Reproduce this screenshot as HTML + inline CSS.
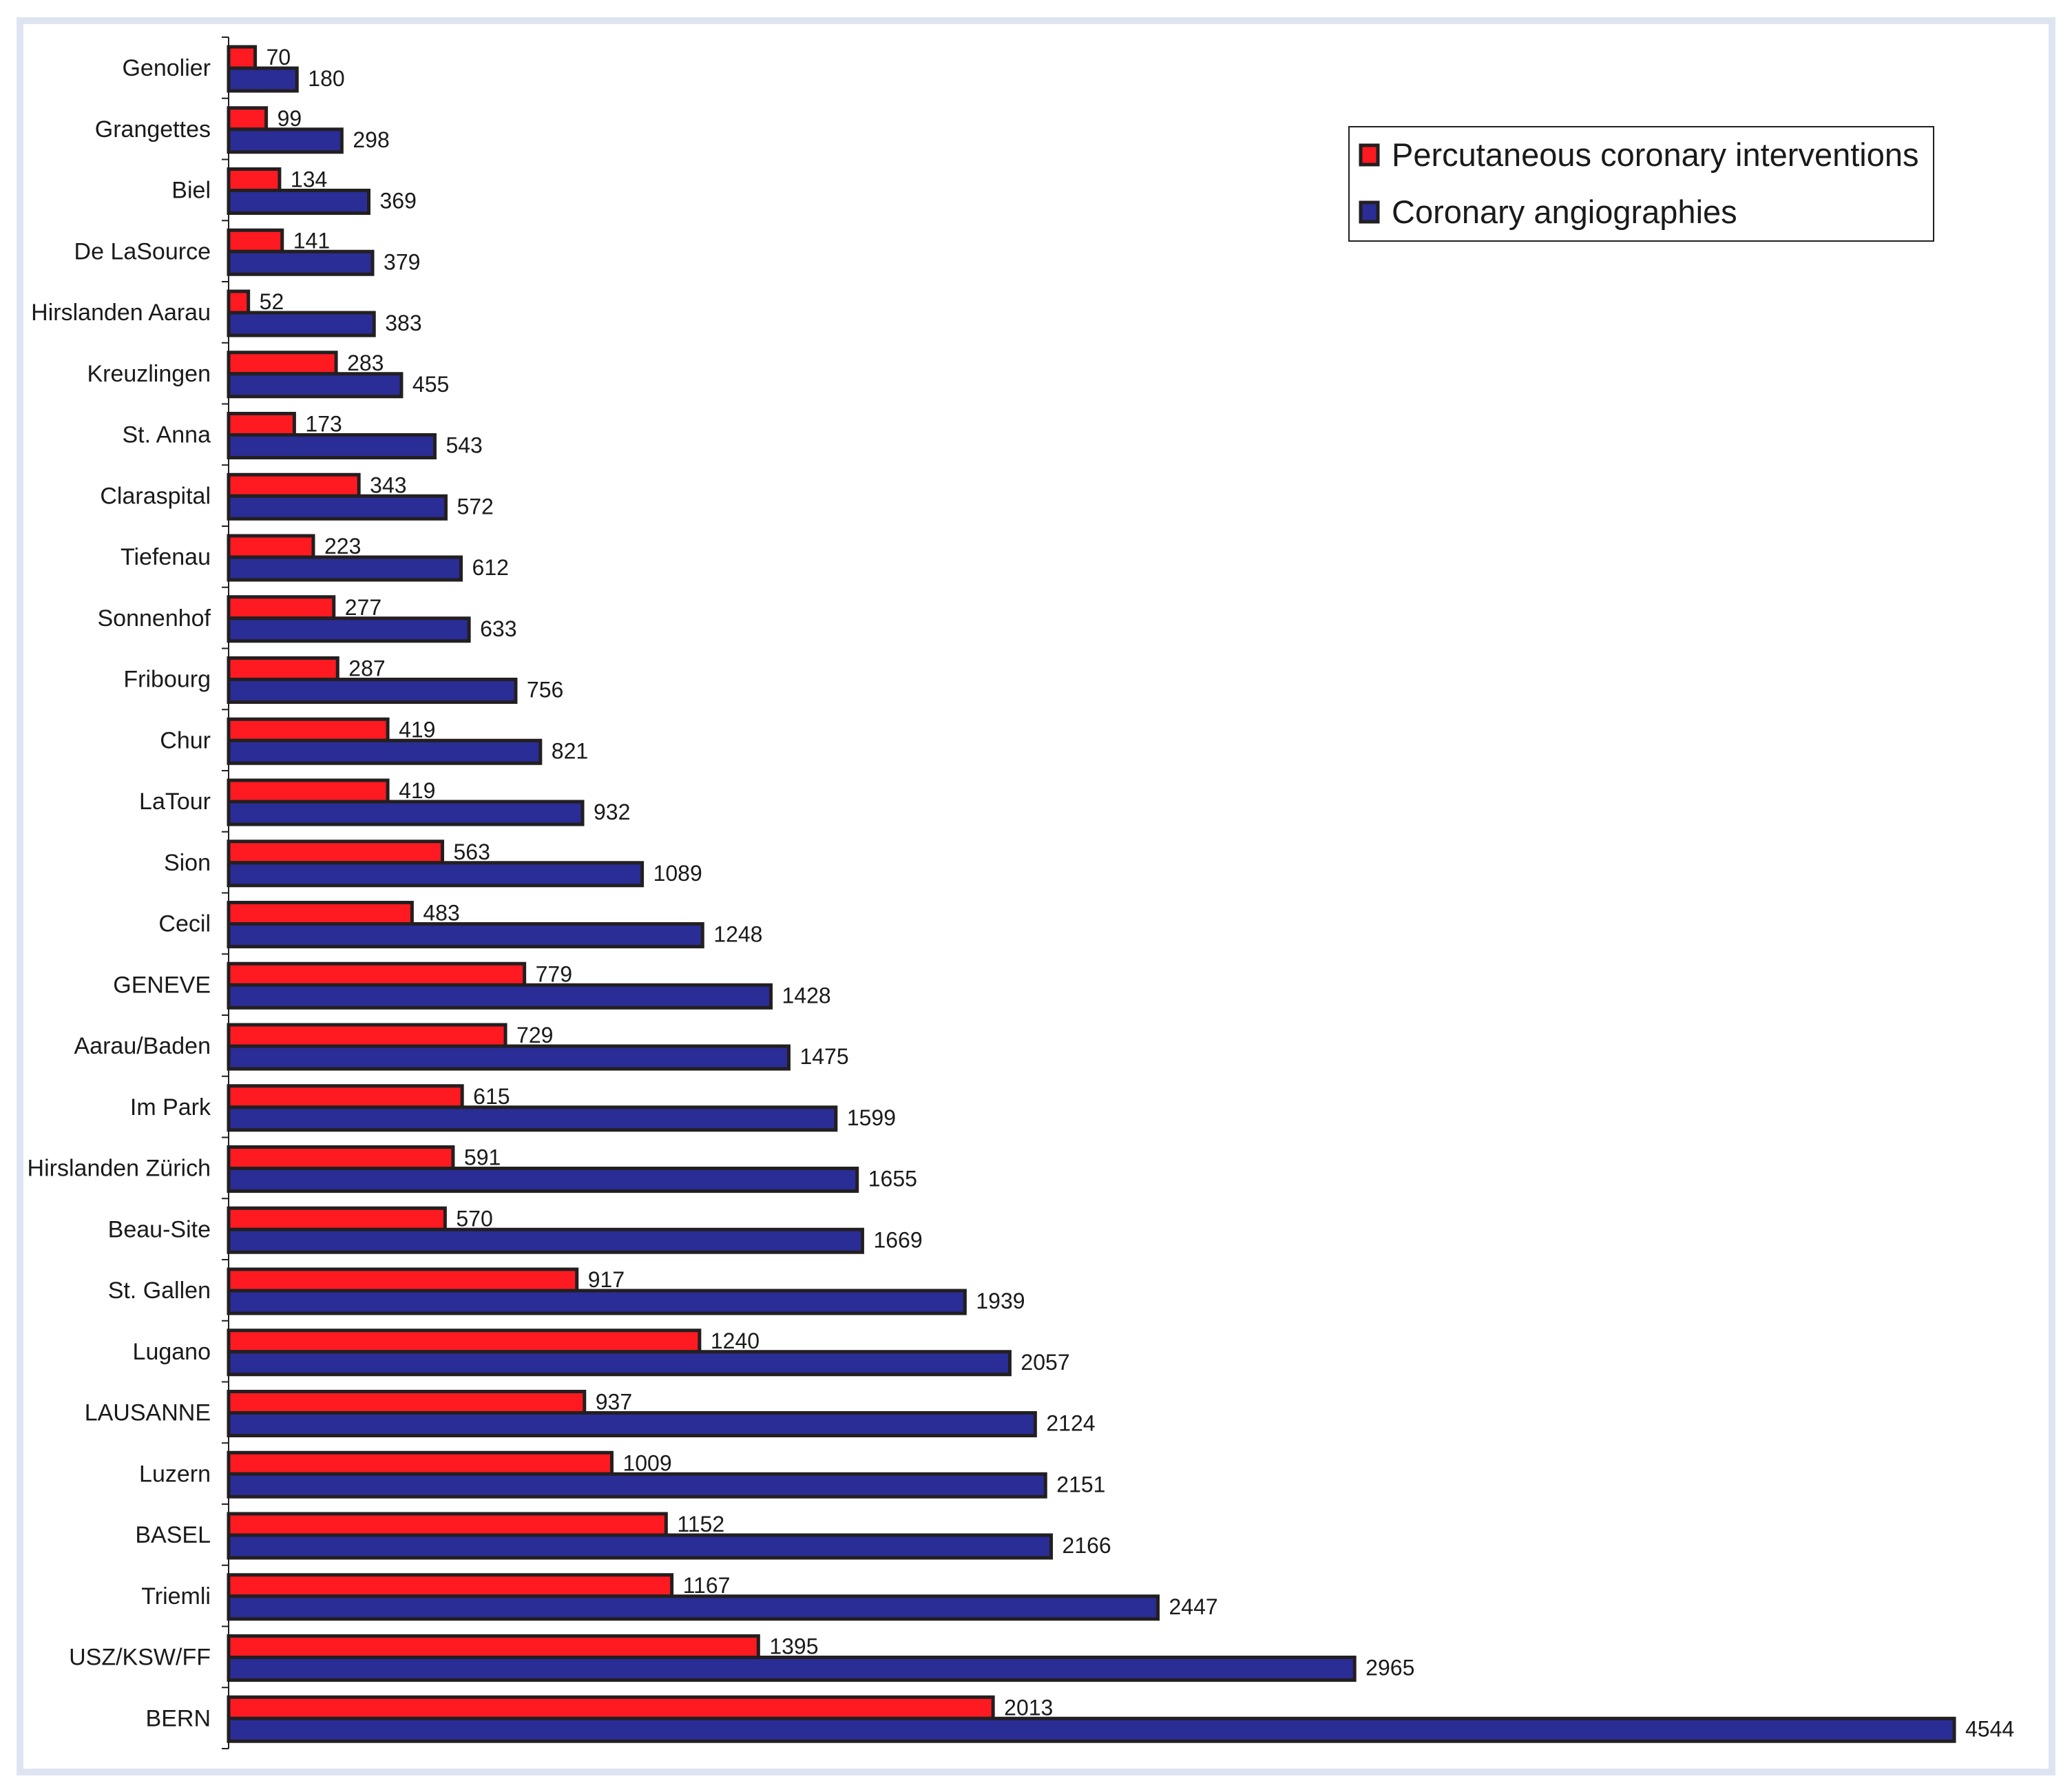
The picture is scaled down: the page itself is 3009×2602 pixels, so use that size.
<!DOCTYPE html>
<html><head><meta charset="utf-8"><style>
html,body{margin:0;padding:0;background:#fff}
svg{display:block}
text{font-family:"Liberation Sans",sans-serif;fill:#1a1a1a}
</style></head><body>
<svg id="chart" width="3009" height="2602" viewBox="0 0 3009 2602" xmlns="http://www.w3.org/2000/svg">
<rect x="29" y="30" width="2951" height="2543" fill="#fff" stroke="#dfe4f2" stroke-width="10"/>
<g id="plot"></g>
<g>
<rect x="1959" y="184" width="849" height="166" fill="#fff" stroke="#231f20" stroke-width="2"/>
<rect x="1976" y="211" width="25" height="28" fill="#ff1a22" stroke="#231f20" stroke-width="5"/>
<text x="2021" y="241" font-size="47">Percutaneous coronary interventions</text>
<rect x="1976" y="294" width="25" height="28" fill="#2a2d96" stroke="#231f20" stroke-width="5"/>
<text x="2021" y="324" font-size="47">Coronary angiographies</text>
</g>
</svg>
<script>
const categories = ["Genolier","Grangettes","Biel","De LaSource","Hirslanden Aarau","Kreuzlingen","St. Anna","Claraspital","Tiefenau","Sonnenhof","Fribourg","Chur","LaTour","Sion","Cecil","GENEVE","Aarau/Baden","Im Park","Hirslanden Zürich","Beau-Site","St. Gallen","Lugano","LAUSANNE","Luzern","BASEL","Triemli","USZ/KSW/FF","BERN"];
const pciValues = [70,99,134,141,52,283,173,343,223,277,287,419,419,563,483,779,729,615,591,570,917,1240,937,1009,1152,1167,1395,2013];
const angioValues = [180,298,369,379,383,455,543,572,612,633,756,821,932,1089,1248,1428,1475,1599,1655,1669,1939,2057,2124,2151,2166,2447,2965,4544];

const NS = "http://www.w3.org/2000/svg";
const plot = document.getElementById("plot");
const axisX = 332, axisTop = 54, step = 88.75;
const xScale = v => axisX + v * (2838 - axisX) / 4544;
const yBand = i => axisTop + i * step;

function mk(tag, attrs) {
  const e = document.createElementNS(NS, tag);
  for (const k in attrs) e.setAttribute(k, attrs[k]);
  plot.appendChild(e);
  return e;
}

const axis = mk("line", {x1: axisX, y1: axisTop, x2: axisX, y2: yBand(categories.length), stroke: "#231f20", "stroke-width": 2});



for (let i = 0; i <= categories.length; i++) {
  const t = mk("line", {x1: axisX - 10, y1: yBand(i), x2: axisX, y2: yBand(i), stroke: "#231f20", "stroke-width": 2});
  
  
}

categories.forEach((c, i) => {
  const y0 = yBand(i);
  const lab = mk("text", {x: 306, y: y0 + 56, "font-size": 34, "text-anchor": "end"});
  lab.textContent = c;
  
  

  const rx = xScale(pciValues[i]);
  const r = mk("rect", {x: axisX, y: y0 + 14, width: rx - axisX, height: 31, fill: "#ff1a22", stroke: "#231f20", "stroke-width": 5});
  
  
  const rv = mk("text", {x: rx + 16, y: y0 + 40, "font-size": 32});
  rv.textContent = pciValues[i];
  
  

  const bx = xScale(angioValues[i]);
  const b = mk("rect", {x: axisX, y: y0 + 45, width: bx - axisX, height: 33, fill: "#2a2d96", stroke: "#231f20", "stroke-width": 5});
  
  
  const bv = mk("text", {x: bx + 16, y: y0 + 71, "font-size": 32});
  bv.textContent = angioValues[i];
  
  
});
</script>
</body></html>
